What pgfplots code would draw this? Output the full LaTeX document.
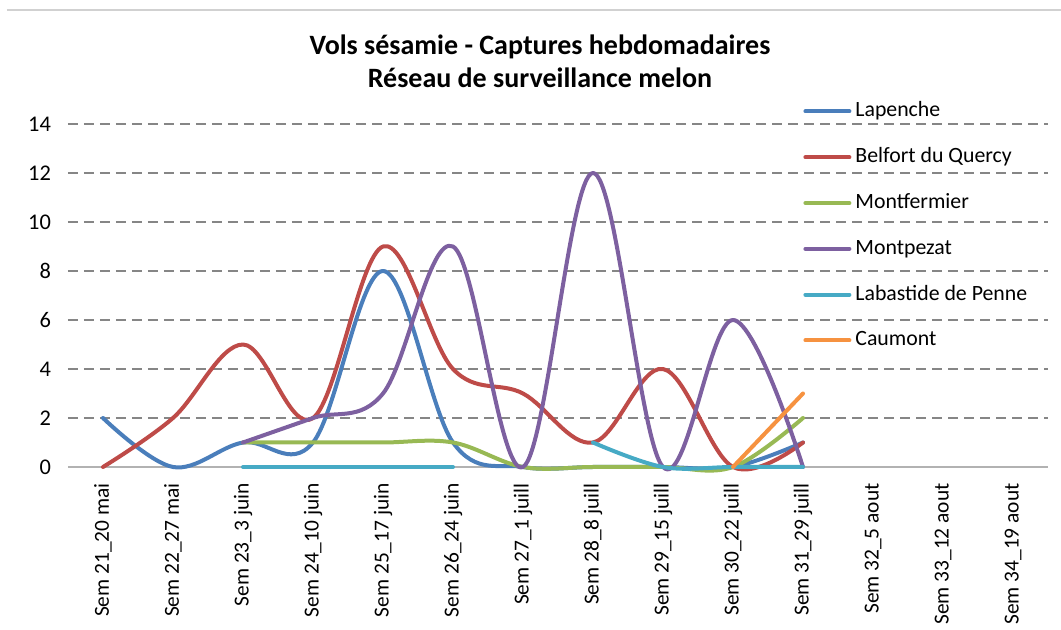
\documentclass[border=0pt]{standalone}
\usepackage{fontspec}
\setmainfont{Carlito}
\usepackage{pgfplots}
\pgfplotsset{compat=1.18}
\definecolor{cBlue}{HTML}{4A7EBB}
\definecolor{cRed}{HTML}{BE4B48}
\definecolor{cGreen}{HTML}{98B954}
\definecolor{cPurple}{HTML}{7D60A0}
\definecolor{cTeal}{HTML}{46AAC5}
\definecolor{cOrange}{HTML}{F69240}
\definecolor{cGrid}{HTML}{868686}
\begin{document}
\begin{tikzpicture}
\useasboundingbox (-34pt,-81.5pt) rectangle (496.5pt,233.5pt);
\draw[draw=black!18, line width=0.6pt] (-30.5pt,228.5pt) -- (496.5pt,228.5pt);
\begin{axis}[
  scale only axis, width=490pt, height=171.5pt,
  xmin=-0.5, xmax=13.5, ymin=0, ymax=14,
  axis line style={draw=none},
  tick style={draw=none},
  major tick length=0pt,
  ytick={2,4,...,14},
  extra y ticks={0},
  extra y tick style={grid=major, major grid style={solid, draw=black!30, line width=1pt}},
  ymajorgrids,
  major grid style={draw=cGrid, line width=1pt, dash pattern=on 5pt off 3pt},
  xtick={0,...,13},
  xticklabels={Sem 21\_20 mai, Sem 22\_27 mai, Sem 23\_3 juin, Sem 24\_10 juin, Sem 25\_17 juin, Sem 26\_24 juin, Sem 27\_1 juill, Sem 28\_8 juill, Sem 29\_15 juill, Sem 30\_22 juill, Sem 31\_29 juill, Sem 32\_5 aout, Sem 33\_12 aout, Sem 34\_19 aout},
  xticklabel style={font=\fontsize{10.7}{13}\selectfont, rotate=90, anchor=east, inner xsep=8pt},
  yticklabel style={font=\fontsize{11.2}{13}\selectfont, xshift=-5pt},
  /pgf/number format/assume math mode=true,
  title={Vols sésamie - Captures hebdomadaires\\Réseau de surveillance melon},
  title style={font=\bfseries\fontsize{14}{16.5}\selectfont, align=center, at={(0.4816,1)}, anchor=south, yshift=8.5pt},
  legend cell align=left,
  legend style={at={(0.75,1.080)}, anchor=north west, draw=none, fill=none, inner sep=0pt,
    font=\fontsize{10.9}{13}\selectfont, row sep=8.4pt,
    nodes={text height=8pt, text depth=2.5pt}},
  legend image code/.code={\draw[#1, line width=2pt, line cap=round] (0pt,0pt) -- (22pt,0pt);},
  every axis plot/.append style={line width=2pt, line cap=round, line join=round, smooth, tension=0.6, mark=none},
  clip=false,
]
\addplot[cBlue] coordinates {(0,2)(1,0)(2,1)(3,1)(4,8)(5,1)(6,0)(7,0)(8,0)(9,0)(10,1)};
\addlegendentry{Lapenche}
\addplot[cRed] coordinates {(0,0)(1,2)(2,5)(3,2)(4,9)(5,4)(6,3)(7,1)(8,4)(9,0)(10,1)};
\addlegendentry{Belfort du Quercy}
\addplot[cGreen] coordinates {(2,1)(3,1)(4,1)(5,1)(6,0)(7,0)(8,0)(9,0)(10,2)};
\addlegendentry{Montfermier}
\addplot[cPurple] coordinates {(2,1)(3,2)(4,3)(5,9)(6,0)(7,12)(8,0)(9,6)(10,0)};
\addlegendentry{Montpezat}
\addplot[cTeal] coordinates {(2,0)(3,0)(4,0)(5,0)};
\addlegendentry{Labastide de Penne}
\addplot[cTeal, forget plot] coordinates {(7,1)(8,0)(9,0)(10,0)};
\addplot[cOrange] coordinates {(9,0)(10,3)};
\addlegendentry{Caumont}
\end{axis}
\end{tikzpicture}
\end{document}
